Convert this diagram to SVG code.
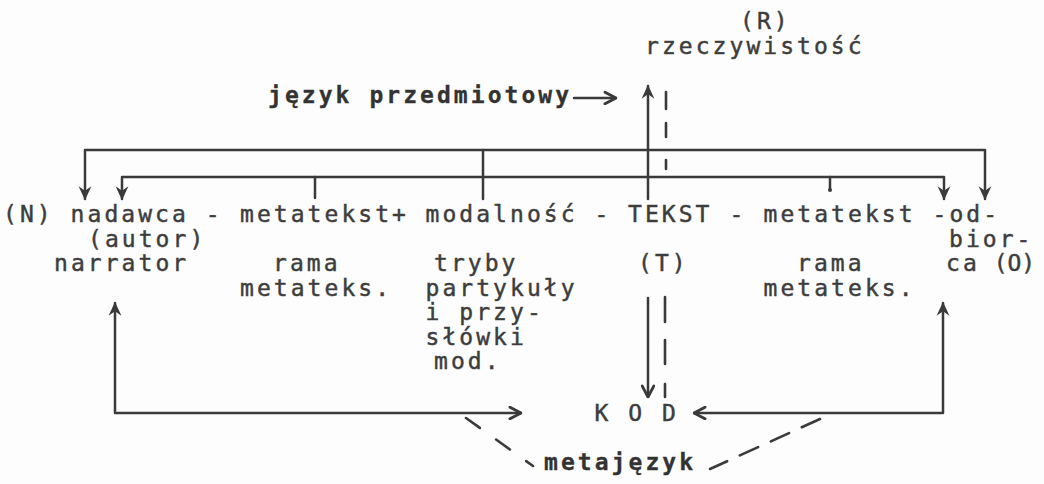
<svg xmlns="http://www.w3.org/2000/svg" width="1044" height="484" viewBox="0 0 1044 484">
<style>
text{font-family:"DejaVu Sans Mono","Liberation Mono",monospace;font-size:23px;letter-spacing:3.05px;fill:#3d3d3d;stroke:#3d3d3d;stroke-width:0.45px}
.b{font-weight:bold;fill:#333;stroke:#333;stroke-width:0.3px}
.tight{letter-spacing:0px}
.ln{fill:none;stroke:#3a3a3a;stroke-width:2.5;stroke-linecap:round;stroke-linejoin:round}
.dash{fill:none;stroke:#3a3a3a;stroke-width:2.6;stroke-linecap:round}
</style>
<defs>
<marker id="fh" viewBox="0 0 12 12" refX="11" refY="6" markerWidth="14" markerHeight="14" markerUnits="userSpaceOnUse" orient="auto-start-reverse">
<path d="M0,0.5 L12,6 L0,11.5 L4,6 z" fill="#3a3a3a"/>
</marker>
<marker id="oh" viewBox="0 0 12 12" refX="11" refY="6" markerWidth="14" markerHeight="14" markerUnits="userSpaceOnUse" orient="auto-start-reverse">
<path d="M1.5,1 L11,6 L1.5,11" fill="none" stroke="#3a3a3a" stroke-width="2.4" stroke-linecap="round" stroke-linejoin="round"/>
</marker>
</defs>
<rect width="1044" height="484" fill="#fdfdfd"/>

<g id="connectors">
<path class="ln" d="M85,199 V150 H985 V199" marker-start="url(#fh)" marker-end="url(#fh)"/>
<path class="ln" d="M122,199 V177 H944 V199" marker-start="url(#fh)" marker-end="url(#fh)"/>
<path class="ln" d="M315,177 V198"/>
<path class="ln" d="M483,150 V199"/>
<path class="ln" d="M830,177 V189"/>
<circle cx="830" cy="190" r="2" fill="#3a3a3a"/>
<path class="ln" d="M648,199 V86" marker-end="url(#fh)"/>
<path class="dash" d="M666,92 V109 M666,123 V137 M666,160 V169"/>
<path class="ln" d="M574,98 H616" marker-end="url(#oh)"/>
<path class="ln" d="M115,303 V413 H521" marker-start="url(#fh)" marker-end="url(#oh)"/>
<path class="ln" d="M943,303 V413 H694" marker-start="url(#fh)" marker-end="url(#oh)"/>
<path class="ln" d="M648,298 V397" marker-end="url(#oh)"/>
<path class="dash" d="M665,297 V322 M665,340 V364 M665,384 V397"/>
<path class="dash" d="M466,418 L533,466" stroke-dasharray="17 20"/>
<path class="dash" d="M820,419 L710,469" stroke-dasharray="20 14"/>
</g>

<g id="node-R">
<text x="740" y="29">(R)</text>
<text x="645" y="54">rzeczywistość</text>
</g>
<g id="label-jezyk-przedmiotowy">
<text class="b" x="268" y="103">język przedmiotowy</text>
</g>
<g id="node-nadawca">
<text x="3" y="222">(N) nadawca -</text>
<text x="88" y="246.5">(autor)</text>
<text x="54" y="271">narrator</text>
</g>
<g id="node-metatekst-left">
<text x="240" y="222">metatekst+</text>
<text x="273" y="271">rama</text>
<text x="240" y="295.5">metateks.</text>
</g>
<g id="node-modalnosc">
<text x="425.5" y="222">modalność -</text>
<text x="434" y="271">tryby</text>
<text x="425.5" y="295.5">partykuły</text>
<text x="425.5" y="320">i przy-</text>
<text x="425.5" y="344.5">słówki</text>
<text x="434" y="369">mod.</text>
</g>
<g id="node-tekst">
<text x="628" y="222">TEKST -</text>
<text x="638" y="271">(T)</text>
</g>
<g id="node-metatekst-right">
<text x="763.5" y="222">metatekst</text>
<text x="797" y="271">rama</text>
<text x="763.5" y="295.5">metateks.</text>
</g>
<g id="node-odbiorca">
<text x="932.5" y="222">-od-</text>
<text x="949" y="246.5">bior-</text>
<text x="946" y="271">ca<tspan class="tight"> (O)</tspan></text>
</g>
<g id="node-kod">
<text x="594.5" y="421">K O D</text>
</g>
<g id="label-metajezyk">
<text class="b" x="544" y="470">metajęzyk</text>
</g>
</svg>
